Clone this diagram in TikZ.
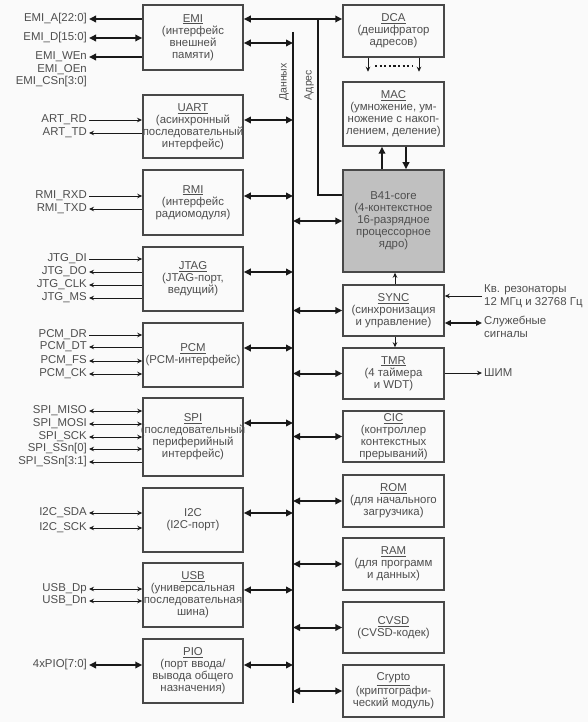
\documentclass[tikz,border=0pt]{standalone}
\usepackage{fontspec}
\setmainfont{Liberation Sans}
\usetikzlibrary{arrows.meta}
\definecolor{socBack}{RGB}{250,250,250}
\definecolor{socFrame}{RGB}{72,72,72}
\definecolor{socText}{RGB}{78,78,78}
\definecolor{socCore}{RGB}{192,192,192}
\definecolor{socWire}{RGB}{25,25,25}

\begin{document}
\begin{tikzpicture}[x=1pt,y=-1pt,
    block/.style={draw=socFrame, line width=1.5pt, text=socText,
      font=\fontsize{11.4}{12}\selectfont, align=center, inner sep=0pt},
    leftblock/.style={block, minimum width=100pt},
    rightblock/.style={block, minimum width=101pt},
    sig/.style={font=\fontsize{11.4}{12}\selectfont, text=socText,
      anchor=east, inner sep=2pt},
    note/.style={font=\fontsize{11.4}{12.5}\selectfont, text=socText,
      anchor=west, align=left, inner sep=2pt},
    buslabel/.style={font=\fontsize{10.5}{12}\selectfont, text=socText,
      rotate=90, inner sep=0pt},
    wire/.style={draw=socWire, line width=.8pt},
    sigin/.style={wire, -{Stealth[length=5pt,width=4.5pt]}},
    sigout/.style={wire, {Stealth[length=5pt,width=4.5pt]}-},
    sigbi/.style={wire,
      {Stealth[length=5pt,width=4.5pt]}-{Stealth[length=5pt,width=4.5pt]}},
    nowire/.style={draw=none},
    fatout/.style={draw=socWire, line width=2pt,
      {Triangle[length=7pt,width=6.5pt]}-},
    fatbi/.style={draw=socWire, line width=2pt,
      {Triangle[length=7pt,width=6.5pt]}-{Triangle[length=7pt,width=6.5pt]}},
    medbi/.style={draw=socWire, line width=1.3pt,
      {Triangle[length=6pt,width=5.5pt]}-{Triangle[length=6pt,width=5.5pt]}},
    fatin/.style={draw=socWire, line width=2pt,
      -{Triangle[length=7pt,width=6.5pt]}},
    bus/.style={draw=socWire, line width=2.8pt}]
  \useasboundingbox (0,0) rectangle (588,722);
  \fill[socBack] (0,0) rectangle (588,722);

  \node[leftblock, minimum height=65pt] (emi) at (193,37.5)
    {\underline{EMI}\\(интерфейс\\внешней\\памяти)};
  \node[leftblock, minimum height=63pt] (uart) at (193,126.5)
    {\underline{UART}\\(асинхронный\\последовательный\\интерфейс)};
  \node[leftblock, minimum height=65pt] (rmi) at (193,202.5)
    {\underline{RMI}\\(интерфейс\\радиомодуля)};
  \node[leftblock, minimum height=64pt] (jtag) at (193,279)
    {\underline{JTAG}\\(JTAG-порт,\\ведущий)};
  \node[leftblock, minimum height=64pt] (pcm) at (193,355)
    {\underline{PCM}\\(PCM-интерфейс)};
  \node[leftblock, minimum height=78pt] (spi) at (193,437)
    {\underline{SPI}\\\makebox[96pt]{(последовательный}\\периферийный\\интерфейс)};
  \node[leftblock, minimum height=64pt] (itwoc) at (193,520)
    {I2C\\(I2C-порт)};
  \node[leftblock, minimum height=64pt] (usb) at (193,595)
    {\underline{USB}\\(универсальная\\последовательная\\шина)};
  \node[leftblock, minimum height=64pt] (pio) at (193,671)
    {\underline{PIO}\\(порт ввода/\\вывода общего\\назначения)};

  \node[rightblock, minimum height=52pt] (dca) at (393.5,31)
    {\underline{DCA}\\(дешифратор\\адресов)};
  \node[rightblock, minimum height=64pt] (mac) at (393.5,114)
    {\underline{MAC}\\(умножение, ум-\\ножение с накоп-\\лением, деление)};
  \node[rightblock, minimum height=102pt, fill=socCore] (core) at (393.5,221)
    {B41-core\\(4-контекстное\\16-разрядное\\процессорное\\ядро)};
  \node[rightblock, minimum height=51pt] (sync) at (393.5,310.5)
    {\underline{SYNC}\\(синхронизация\\и управление)};
  \node[rightblock, minimum height=51pt] (tmr) at (393.5,373.5)
    {\underline{TMR}\\(4 таймера\\и WDT)};
  \node[rightblock, minimum height=51pt] (cic) at (393.5,436.5)
    {\underline{CIC}\\(контроллер\\контекстных\\прерываний)};
  \node[rightblock, minimum height=52pt] (rom) at (393.5,501)
    {\underline{ROM}\\(для начального\\загрузчика)};
  \node[rightblock, minimum height=52pt] (ram) at (393.5,564)
    {\underline{RAM}\\(для программ\\и данных)};
  \node[rightblock, minimum height=51pt] (cvsd) at (393.5,627.5)
    {\underline{CVSD}\\(CVSD-кодек)};
  \node[rightblock, minimum height=52pt] (crypto) at (393.5,691)
    {\underline{Crypto}\\(криптографи-\\ческий модуль)};

  \coordinate (dtop) at (293,32);
  \coordinate (dbot) at (293,703);
  \coordinate (abus) at (318,19);
  \draw[bus] (dtop) -- (dbot);
  \node[buslabel] (dlabel) at (284,82) {Данных};
  \node[buslabel] (alabel) at (309,85) {Адрес};

  \draw[fatbi] (emi.east |- abus) -- (dca.west |- abus);
  \draw[draw=socWire, line width=2pt] (core.west |- 0,195) -| (abus);

  \foreach \m/\y in {emi/43,uart/120,rmi/196,jtag/272,pcm/348,
      spi/423,itwoc/513,usb/590,pio/665}{
    \draw[fatbi] (\m.east |- 0,\y) -- (dtop |- 0,\y);}
  \foreach \m in {core,sync,tmr,cic,rom,ram,cvsd,crypto}{
    \draw[fatbi] (dtop |- \m.west) -- (\m.west);}

  \foreach \y/\txt/\kind in {19/EMI\_A[22:0]/fatout,38/EMI\_D[15:0]/fatbi,
      57/EMI\_WEn/fatout,70/EMI\_OEn/nowire,82/EMI\_CSn[3:0]/nowire}{
    \node[sig] (l\y) at (89,\y) {\txt};
    \draw[\kind] (l\y.east) -- (l\y.east -| emi.west);}
  \foreach \y/\txt/\kind in {120/ART\_RD/sigin,133/ART\_TD/sigout}{
    \node[sig] (l\y) at (89,\y) {\txt};
    \draw[\kind] (l\y.east) -- (l\y.east -| uart.west);}
  \foreach \y/\txt/\kind in {196/RMI\_RXD/sigin,209/RMI\_TXD/sigout}{
    \node[sig] (l\y) at (89,\y) {\txt};
    \draw[\kind] (l\y.east) -- (l\y.east -| rmi.west);}
  \foreach \y/\txt/\kind in {259/JTG\_DI/sigin,272/JTG\_DO/sigout,
      285/JTG\_CLK/sigout,298/JTG\_MS/sigout}{
    \node[sig] (l\y) at (89,\y) {\txt};
    \draw[\kind] (l\y.east) -- (l\y.east -| jtag.west);}
  \foreach \y/\txt/\kind in {335/PCM\_DR/sigin,347/PCM\_DT/sigout,
      361/PCM\_FS/sigbi,374/PCM\_CK/sigbi}{
    \node[sig] (l\y) at (89,\y) {\txt};
    \draw[\kind] (l\y.east) -- (l\y.east -| pcm.west);}
  \foreach \y/\txt/\kind in {411/SPI\_MISO/sigbi,424/SPI\_MOSI/sigbi,
      437/SPI\_SCK/sigbi,449/SPI\_SSn[0]/sigbi,462/SPI\_SSn[3:1]/sigout}{
    \node[sig] (l\y) at (89,\y) {\txt};
    \draw[\kind] (l\y.east) -- (l\y.east -| spi.west);}
  \foreach \y/\txt/\kind in {513/I2C\_SDA/sigbi,528/I2C\_SCK/sigbi}{
    \node[sig] (l\y) at (89,\y) {\txt};
    \draw[\kind] (l\y.east) -- (l\y.east -| itwoc.west);}
  \foreach \y/\txt/\kind in {589/USB\_Dp/sigbi,601/USB\_Dn/sigbi}{
    \node[sig] (l\y) at (89,\y) {\txt};
    \draw[\kind] (l\y.east) -- (l\y.east -| usb.west);}
  \node[sig] (l665) at (89,665) {4xPIO[7:0]};
  \draw[fatbi] (l665.east) -- (l665.east -| pio.west);

  \draw[sigin] (dca.south -| 368,0) -- ++(0,14);
  \draw[sigin] (dca.south -| 419,0) -- ++(0,14);
  \draw[socWire, line width=2.2pt, dash pattern=on 2.2pt off 2.4pt]
    (375,66) -- (413,66);
  \draw[fatin] (core.north -| 382,0) -- (mac.south -| 382,0);
  \draw[fatin] (mac.south -| 406,0) -- (core.north -| 406,0);
  \draw[sigin] (sync.north -| 395,0) -- (core.south -| 395,0);
  \draw[sigin] (sync.south -| 395,0) -- (tmr.north -| 395,0);

  \node[note] (xtal) at (482,296) {Кв. резонаторы\\12 МГц и 32768 Гц};
  \draw[sigin] (xtal.west) -- (xtal.west -| sync.east);
  \node[note] (svc) at (482,327) {Служебные\\сигналы};
  \draw[medbi] (sync.east |- 0,323) -- (svc.west |- 0,323);
  \node[note] (pwm) at (482,373) {ШИМ};
  \draw[sigin] (tmr.east |- pwm.west) -- (pwm.west);
\end{tikzpicture}
\end{document}
